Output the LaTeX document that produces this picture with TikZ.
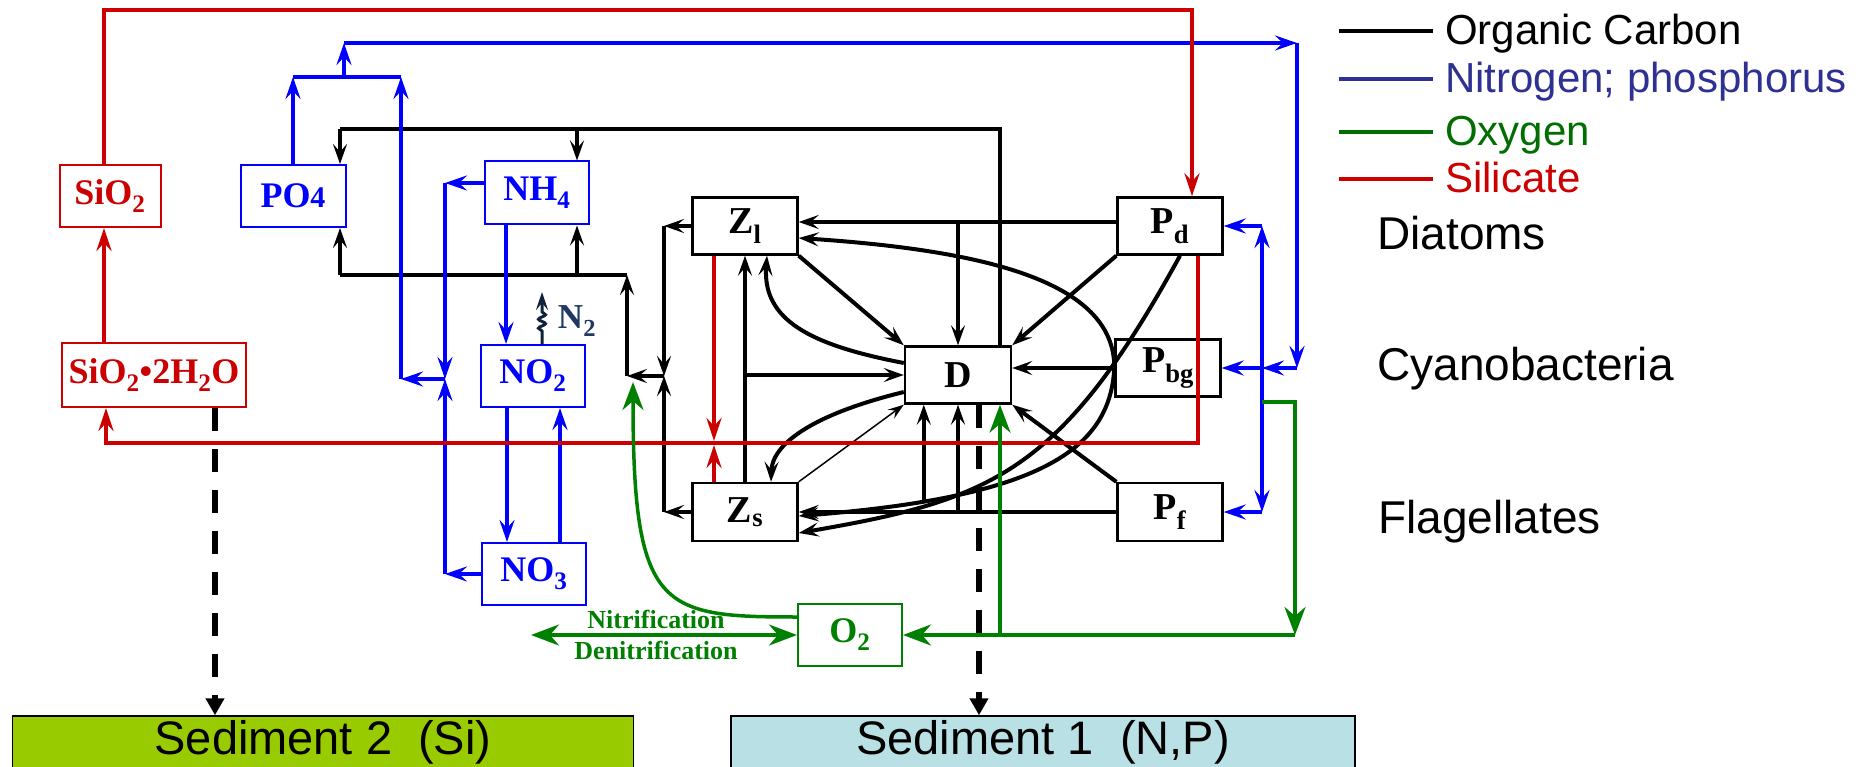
\documentclass[tikz,border=0pt]{standalone}
\usepackage{fontspec}
\setmainfont{Liberation Serif}
\setsansfont{Liberation Sans}
\usepackage{xcolor}
\usetikzlibrary{arrows.meta,decorations.pathmorphing}
\definecolor{nblue}{RGB}{0,0,255}
\definecolor{sired}{RGB}{204,0,0}
\definecolor{oxgreen}{RGB}{0,128,0}
\definecolor{leggreen}{RGB}{0,110,0}
\definecolor{legblue}{RGB}{46,49,146}
\definecolor{ntwo}{RGB}{31,56,100}
\definecolor{olivetip}{RGB}{136,136,0}
\definecolor{sedgreen}{RGB}{153,204,0}
\definecolor{sedblue}{RGB}{185,224,228}
\begin{document}
\begin{tikzpicture}[x=1pt,y=-1pt, every node/.style={inner sep=0pt},
  pool/.style={draw,line width=2.4pt,minimum width=105pt,minimum height=57pt,font=\bfseries\fontsize{38}{40}\selectfont},
  nutr/.style={pool,line width=2pt,draw=nblue,text=nblue,minimum width=104pt,minimum height=62pt,font=\bfseries\fontsize{36}{38}\selectfont},
  sili/.style={nutr,draw=sired,text=sired},
  sed/.style={draw,line width=1.5pt,minimum height=52pt,font=\sffamily\fontsize{47}{50}\selectfont},
  legtext/.style={anchor=base west,font=\sffamily\fontsize{42}{44}\selectfont},
  grp/.style={anchor=base west,font=\sffamily\fontsize{46}{48}\selectfont},
  nlabel/.style={anchor=base,text=oxgreen,font=\bfseries\fontsize{26}{28}\selectfont},
  carb/.style={line width=4pt,>={Stealth[length=20pt,width=14pt,inset=8pt]}},
  nit/.style={line width=3.5pt,draw=nblue,>={Stealth[length=22pt,width=15pt,inset=8pt]}},
  sil/.style={line width=4pt,draw=sired,>={Stealth[length=23pt,width=15pt,inset=8pt,fill=olivetip]}},
  oxy/.style={line width=3.5pt,draw=oxgreen,>={Stealth[length=28pt,width=21pt,inset=9pt]}},
  sink/.style={line width=6pt,dash pattern=on 23pt off 18pt,>={Triangle[length=17pt,width=18pt]}}]
\useasboundingbox (0,0) rectangle (1874,767);
\node[sili,minimum width=101pt] (sio) at (110,196) {SiO\textsubscript{2}};
\node[sili,minimum width=184pt,minimum height=64pt] (sih) at (154,375) {SiO\textsubscript{2}•2H\textsubscript{2}O};
\node[nutr,minimum width=105pt] (po) at (293,196) {PO{\fontsize{30}{30}\selectfont 4}};
\node[nutr,minimum height=63pt] (nh) at (537,193) {NH\textsubscript{4}};
\node[nutr] (no2) at (533,376) {NO\textsubscript{2}};
\node[nutr] (no3) at (534,574) {NO\textsubscript{3}};
\node[nutr,draw=oxgreen,text=oxgreen] (o2) at (850,635) {O\textsubscript{2}};
\node[text=ntwo,font=\bfseries\fontsize{35}{36}\selectfont] (n2) at (577,321) {N\textsubscript{2}};
\node[pool] (zl) at (745,226) {Z\textsubscript{l}};
\node[pool,minimum height=58pt] (zs) at (745,512) {Z\textsubscript{s}};
\node[pool,minimum width=106pt] (dd) at (958,375) {D};
\node[pool] (pd) at (1170,226) {P\textsubscript{d}};
\node[pool] (pbg) at (1168,368) {P\textsubscript{bg}};
\node[pool,minimum height=58pt] (pf) at (1170,512) {P\textsubscript{f}};
\node[sed,fill=sedgreen,minimum width=621pt] (sed2) at (323,742) {Sediment 2~ (Si)};
\node[sed,fill=sedblue,minimum width=624pt] (sed1) at (1043,742) {Sediment 1~ (N,P)};
\node[legtext] (lc) at (1445,45) {Organic Carbon};
\node[legtext,text=legblue] (ln) at (1445,93) {Nitrogen; phosphorus};
\node[legtext,text=leggreen] (lo) at (1445,146) {Oxygen};
\node[legtext,text=sired] (ls) at (1445,193) {Silicate};
\node[grp] (gd) at (1377,250) {Diatoms};
\node[grp] (gc) at (1377,380) {Cyanobacteria};
\node[grp] (gf) at (1378,533) {Flagellates};
\foreach \n/\c in {lc/black,ln/legblue,lo/leggreen,ls/sired}{\draw[line width=4pt,draw=\c] ([xshift=-106pt,yshift=13.5pt]\n.base west) -- ([xshift=-12pt,yshift=13.5pt]\n.base west);}
\coordinate (cl) at (340,129);
\coordinate (cn) at (577,129);
\coordinate (cb) at (627,275);
\coordinate (cj) at (627,376);
\coordinate (zj) at (664,376);
\coordinate (pdw) at ([yshift=4pt]pd.west);
\coordinate (dtop) at ([xshift=42pt]dd.north);
\draw[carb] (dtop) |- (cl);
\draw[carb,->] (cl) -- (cl |- po.north);
\draw[carb,->] (cn) -- (cn |- nh.north);
\foreach \p in {zl,zs}{\draw[carb,->] (\p.west) -- (\p.west -| zj); \draw[carb,->] (\p.west -| zj) -- (zj);}
\draw[carb,->] (zj) -- (cj);
\draw[carb,->] (cj) -- (cb);
\draw[carb] (cb) -- (cl |- cb);
\draw[carb,->] (cl |- cb) -- (cl |- po.south);
\draw[carb,->] (cn |- cb) -- (cn |- nh.south);
\foreach \a/\b in {pd.south west/dd.north east,pf.north west/dd.south east,zl.south east/dd.north west,pf.west/zs.east,zs.north/zl.south,pbg.west/pbg.west -| dd.east,pdw/pdw -| zl.east,pdw -| dd.north/dd.north,pf.west -| dd.south/dd.south,zs.north |- dd.west/dd.west}{\draw[carb,->] (\a) -- (\b);}
\draw[line width=1.5pt,-{Stealth[length=16pt,width=11pt,inset=6pt]}] (zs.north east) -- (dd.south west);
\draw[carb,->] ([yshift=12pt]dd.west) .. controls (810,345) and (762,320) .. ([xshift=22pt]zl.south);
\draw[carb,->] ([yshift=-17pt]dd.west) .. controls (810,415) and (772,445) .. ([xshift=26pt]zs.north);
\draw[carb,->] (pbg.west) .. controls (1115,280) and (980,250) .. ([yshift=-12pt]zl.east);
\draw[carb,->] (pbg.west) .. controls (1110,450) and (1040,497) .. coordinate[pos=0.8] (bz) ([yshift=-4pt]zs.east);
\draw[carb,->] ([xshift=10pt]pd.south) .. controls (1060,475) and (990,500) .. ([yshift=-21pt]zs.east);
\draw[carb,->] (bz) -- (bz |- dd.south);
\coordinate (pj) at (344,77);
\coordinate (nl) at (401,379);
\coordinate (nj) at (445,379);
\coordinate (bt) at (1297,43);
\coordinate (bs) at (1262,368);
\coordinate (nhw) at ([yshift=10pt]nh.west);
\draw[nit,->] (po.north) -- (po.north |- pj);
\draw[nit] (po.north |- pj) -- (nl |- pj);
\draw[nit,->] (nl) -- (nl |- pj);
\draw[nit,->] (pj) -- (pj |- bt);
\draw[nit,->] (pj |- bt) -- (bt);
\draw[nit,->] (bt) -- (bt |- bs);
\draw[nit,->] (bt |- bs) -- (bs);
\draw[nit,->] (bs) -- (pbg.east);
\foreach \p in {pd,pf}{\draw[nit,->] (bs) -- (bs |- \p.east); \draw[nit,->] (bs |- \p.east) -- (\p.east);}
\foreach \p in {nhw,no3.west}{\draw[nit,->] (\p) -- (\p -| nj); \draw[nit,->] (\p -| nj) -- (nj);}
\draw[nit,->] (nj) -- (nl);
\draw[nit,->] ([xshift=-31pt]nh.south) -- ([xshift=-27pt]no2.north);
\draw[nit,->] ([xshift=-26pt]no2.south) -- ([xshift=-27pt]no3.north);
\draw[nit,->] ([xshift=26pt]no3.north) -- ([xshift=27pt]no2.south);
\coordinate (n2end) at (542,292);
\draw[line width=3pt,draw=ntwo!60!black,-{Stealth[length=18pt,width=12pt,inset=7pt]},decorate,decoration={snake,amplitude=3.5pt,segment length=9pt,pre length=13pt,post length=18pt}] ([xshift=9pt]no2.north) -- (n2end);
\coordinate (sitop) at (1192,10);
\coordinate (sibot) at (1198,443);
\coordinate (sx) at (714,443);
\coordinate (silup) at ([xshift=-6pt]sio.south);
\coordinate (siltop) at ([xshift=-6pt]sio.north);
\coordinate (silbot) at ([xshift=-48pt]sih.south);
\draw[sil,->] (silup |- sih.north) -- (silup);
\draw[sil,->] (siltop) |- (sitop) -- (sitop |- pd.north);
\draw[sil,->] ([xshift=28pt]pd.south) -- (sibot) -| (silbot);
\draw[sil,->] (zl.south -| sx) -- ([yshift=2pt]sx);
\draw[sil,->] (zs.north -| sx) -- ([yshift=-2pt]sx);
\coordinate (gb) at (1295,635);
\coordinate (gt) at (633,382);
\coordinate (nw) at (531,635);
\coordinate (dbot) at ([xshift=42pt]dd.south);
\draw[oxy,->] ([yshift=-34pt]bs) -| (gb);
\draw[oxy,->] (gb) -- (o2.east);
\draw[oxy,->] (dbot |- gb) -- (dbot);
\draw[oxy,->] ([yshift=18pt]o2.west) .. controls (660,617) and (633,610) .. (gt);
\draw[oxy,<->] (nw) -- node[nlabel,pos=0.47,yshift=7pt] {Nitrification} node[nlabel,pos=0.47,yshift=-24pt] {Denitrification} (o2.west);
\coordinate (dk2) at ([xshift=61pt]sih.south);
\coordinate (dk1) at ([xshift=21pt]dd.south);
\draw[sink,->] (dk2) -- (dk2 |- sed2.north);
\draw[sink,->] (dk1) -- (dk1 |- sed1.north);
\end{tikzpicture}
\end{document}
